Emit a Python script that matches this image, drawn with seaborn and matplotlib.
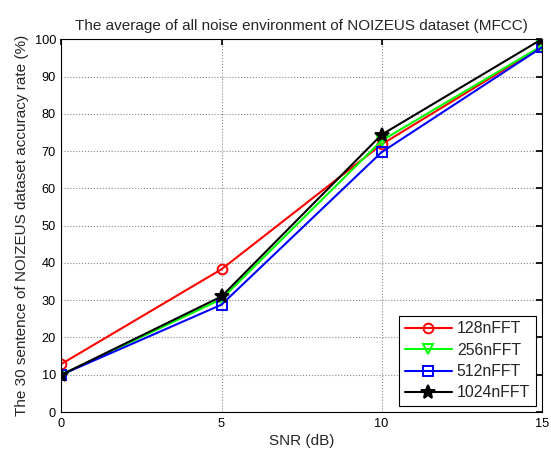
import matplotlib
matplotlib.use("Agg")
import matplotlib.pyplot as plt
import seaborn as sns
import pandas as pd

snr = [0, 5, 10, 15]
acc_128 = [12.9, 38.3, 71.8, 98.0]
acc_256 = [10.0, 30.3, 72.8, 98.2]
acc_512 = [10.0, 28.8, 69.7, 97.8]
acc_1024 = [10.0, 31.0, 74.4, 100.0]
series_names = ["128nFFT", "256nFFT", "512nFFT", "1024nFFT"]
colors = ["#ff0000", "#00ff00", "#0000ff", "#000000"]
markers = ["o", "v", "s", "*"]
xticks = [0, 5, 10, 15]
yticks = list(range(0, 101, 10))

sns.set_theme(style="white")
plt.rcParams['font.family'] = ['Liberation Sans', 'DejaVu Sans']

df = pd.DataFrame({
    "SNR": snr * 4,
    "acc": acc_128 + acc_256 + acc_512 + acc_1024,
    "series": sum([[n] * len(snr) for n in series_names], []),
})

fig = plt.figure(figsize=(5.51, 4.5), dpi=100)
ax = fig.add_axes([0.1115, 0.0844, 0.8715, 0.8283])

msizes = {"o": 7, "v": 7, "s": 7, "*": 10}
for name, c, m in zip(series_names, colors, markers):
    sub = df[df["series"] == name]
    sns.lineplot(data=sub, x="SNR", y="acc", ax=ax, color=c, marker=m,
                 markersize=msizes[m], markerfacecolor="none" if m != "*" else c,
                 markeredgecolor=c, markeredgewidth=1.4, linewidth=1.5,
                 label=name, estimator=None, sort=False)

ax.set_xlim(0, 15)
ax.set_ylim(0, 100)
ax.set_xticks(xticks)
ax.set_yticks(yticks)
ax.grid(True, linestyle=":", color="#888888", linewidth=0.8)
ax.tick_params(direction="in", top=True, right=True, length=4, labelsize=9.2,
               colors="#000000", pad=4)
for sp in ax.spines.values():
    sp.set_color("#000000")
    sp.set_linewidth(0.8)
ax.set_xlabel("SNR (dB)", fontsize=11, labelpad=3)
ax.set_ylabel("The 30 sentence of NOIZEUS dataset accuracy rate (%)", fontsize=11, labelpad=4)
ax.set_title("The average of all noise environment of NOIZEUS dataset (MFCC)", fontsize=11, pad=7)

leg = ax.legend(loc="lower right", fontsize=11.4, frameon=True, fancybox=False,
                edgecolor="#000000", framealpha=1, handlelength=3.0,
                handletextpad=0.3, borderpad=0.35,
                borderaxespad=0.38, labelspacing=0.4)
leg.get_frame().set_linewidth(0.8)

fig.savefig("out.png", dpi=100)
